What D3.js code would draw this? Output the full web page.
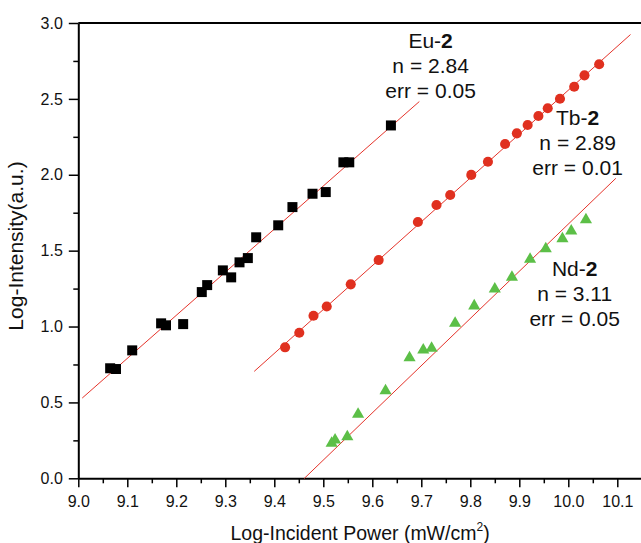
<!DOCTYPE html>
<html>
<head>
<meta charset="utf-8">
<script src="https://cdn.jsdelivr.net/npm/d3@7"></script>
<style>
  body { margin: 0; background: #fff; }
  svg { display: block; font-family: "Liberation Sans", Arial, Helvetica, sans-serif; }
  .axis path, .axis line { stroke: #000; }
  .axis text { font-size: 16px; fill: #111; }
</style>
</head>
<body>
<svg></svg>
<script>
// Eu-2 (black squares)
let euX = [9.065, 9.077, 9.110, 9.169, 9.179, 9.214, 9.252, 9.263, 9.295, 9.312, 9.329, 9.346, 9.363, 9.408, 9.437, 9.478, 9.505, 9.541, 9.553, 9.638]
let euY = [0.725, 0.720, 0.843, 1.021, 1.008, 1.016, 1.227, 1.273, 1.370, 1.324, 1.423, 1.451, 1.588, 1.667, 1.787, 1.875, 1.886, 2.082, 2.082, 2.325]

// Tb-2 (red circles)
let tbX = [9.422, 9.451, 9.480, 9.507, 9.556, 9.613, 9.693, 9.731, 9.759, 9.802, 9.836, 9.871, 9.895, 9.917, 9.939, 9.958, 9.983, 10.012, 10.033, 10.063]
let tbY = [0.863, 0.959, 1.071, 1.132, 1.278, 1.438, 1.689, 1.801, 1.867, 1.999, 2.086, 2.203, 2.273, 2.328, 2.387, 2.438, 2.501, 2.580, 2.655, 2.728]

// Nd-2 (green triangles)
let ndX = [9.517, 9.524, 9.549, 9.571, 9.627, 9.676, 9.704, 9.721, 9.769, 9.808, 9.850, 9.885, 9.922, 9.954, 9.988, 10.006, 10.036]
let ndY = [0.231, 0.252, 0.274, 0.422, 0.577, 0.795, 0.845, 0.857, 1.021, 1.136, 1.248, 1.325, 1.443, 1.513, 1.579, 1.630, 1.703]

// linear fits: y = slope * (x - 9) + b, drawn between from..to
let fitNames = ['Eu', 'Tb', 'Nd']
let fitSlope = [2.84, 2.89, 3.11]
let fitB = [0.506, -0.333, -1.435]
let fitFrom = [9.008, 9.359, 9.461]
let fitTo = [9.696, 10.127, 10.097]

// annotations (anchor in data units)
let labelEl = ['Eu-', 'Tb-', 'Nd-']
let labelN = ['2.84', '2.89', '3.11']
let labelErr = ['0.05', '0.01', '0.05']
let labelX = [9.719, 10.019, 9.013 + 1.0]
let labelY = [2.835, 2.328, 1.336]

let xTickValues = [9.0, 9.1, 9.2, 9.3, 9.4, 9.5, 9.6, 9.7, 9.8, 9.9, 10.0, 10.1]
let yTickValues = [0.0, 0.5, 1.0, 1.5, 2.0, 2.5, 3.0]

let margin = { top: 23, right: 0, bottom: 65, left: 78.3 }
let width = 563.5
let height = 455.3

let svg = d3.select('svg')
    .attr('width', 641)
    .attr('height', 543)

let chart = svg.append('g')
    .attr('transform', 'translate(' + margin.left + ',' + margin.top + ')')

let x = d3.scaleLinear().domain([9.0, 10.15]).range([0, width])
let y = d3.scaleLinear().domain([0, 3]).range([height, 0])

// minor ticks
let xMinor = xTickValues.map(d => d + 0.05)
let yMinor = yTickValues.slice(0, -1).map(d => d + 0.25)

chart.append('g').attr('class', 'axis')
    .attr('transform', 'translate(0,' + height + ')')
    .call(d3.axisBottom(x).tickValues(xMinor).tickSize(5).tickFormat(''))
    .call(g => g.select('.domain').remove())
    .selectAll('line').attr('stroke-width', 1.5)

chart.append('g').attr('class', 'axis')
    .call(d3.axisLeft(y).tickValues(yMinor).tickSize(5).tickFormat(''))
    .call(g => g.select('.domain').remove())
    .selectAll('line').attr('stroke-width', 1.5)

let xAxis = chart.append('g').attr('class', 'axis x')
    .attr('transform', 'translate(0,' + height + ')')
    .call(d3.axisBottom(x).tickValues(xTickValues).tickSize(9).tickSizeOuter(0).tickPadding(8).tickFormat(d3.format('.1f')))
xAxis.select('.domain').attr('stroke-width', 2)
xAxis.selectAll('.tick line').attr('stroke-width', 1.5)

let yAxis = chart.append('g').attr('class', 'axis y')
    .call(d3.axisLeft(y).tickValues(yTickValues).tickSize(9.5).tickSizeOuter(0).tickPadding(6).tickFormat(d3.format('.1f')))
yAxis.select('.domain').attr('stroke-width', 2)
yAxis.selectAll('.tick line').attr('stroke-width', 1.5)

// top frame
chart.append('line')
    .attr('x1', 0).attr('x2', width)
    .attr('y1', 0).attr('y2', 0)
    .attr('stroke', '#000').attr('stroke-width', 2)

// fit lines
let line = d3.line().x(d => x(d[0])).y(d => y(d[1]))
fitNames.forEach((name, i) => {
  let f = v => fitSlope[i] * (v - 9) + fitB[i]
  chart.append('path')
      .attr('d', line([[fitFrom[i], f(fitFrom[i])], [fitTo[i], f(fitTo[i])]]))
      .attr('fill', 'none')
      .attr('stroke', '#e5332a')
      .attr('stroke-width', 1)
})

// points
function points(xs, ys, type, size, color) {
  chart.append('g').selectAll('path')
      .data(xs.map((d, i) => [d, ys[i]]))
      .enter()
      .append('path')
      .attr('transform', d => 'translate(' + x(d[0]) + ',' + y(d[1]) + ')')
      .attr('d', d3.symbol().type(type).size(size))
      .attr('fill', color)
}
points(euX, euY, d3.symbolSquare, 100, '#000')
points(tbX, tbY, d3.symbolCircle, 80, '#e0301f')
points(ndX, ndY, d3.symbolTriangle, 64, '#5cbf47')

// annotations
labelEl.forEach((el, i) => {
  let t = chart.append('text')
      .attr('x', x(labelX[i]))
      .attr('y', y(labelY[i]))
      .attr('text-anchor', 'middle')
      .attr('font-size', 21)
      .attr('fill', '#111')
  t.append('tspan').text(el)
  t.append('tspan').attr('font-weight', 'bold').text('2')
  chart.append('text')
      .attr('x', x(labelX[i]))
      .attr('y', y(labelY[i]) + 25)
      .attr('text-anchor', 'middle')
      .attr('font-size', 21)
      .attr('fill', '#111')
      .text('n = ' + labelN[i])
  chart.append('text')
      .attr('x', x(labelX[i]))
      .attr('y', y(labelY[i]) + 50)
      .attr('text-anchor', 'middle')
      .attr('font-size', 21)
      .attr('fill', '#111')
      .text('err = ' + labelErr[i])
})

// axis titles
let xTitle = svg.append('text')
    .attr('x', margin.left + width / 2)
    .attr('y', 540)
    .attr('text-anchor', 'middle')
    .attr('font-size', 19.5)
    .attr('fill', '#111')
xTitle.append('tspan').text('Log-Incident Power (mW/cm')
xTitle.append('tspan').attr('font-size', 12).attr('dy', -9).text('2')
xTitle.append('tspan').attr('dy', 9).text(')')

svg.append('text')
    .attr('transform', 'translate(23,246) rotate(-90)')
    .attr('text-anchor', 'middle')
    .attr('font-size', 21)
    .attr('fill', '#111')
    .text('Log-Intensity(a.u.)')
</script>
</body>
</html>
